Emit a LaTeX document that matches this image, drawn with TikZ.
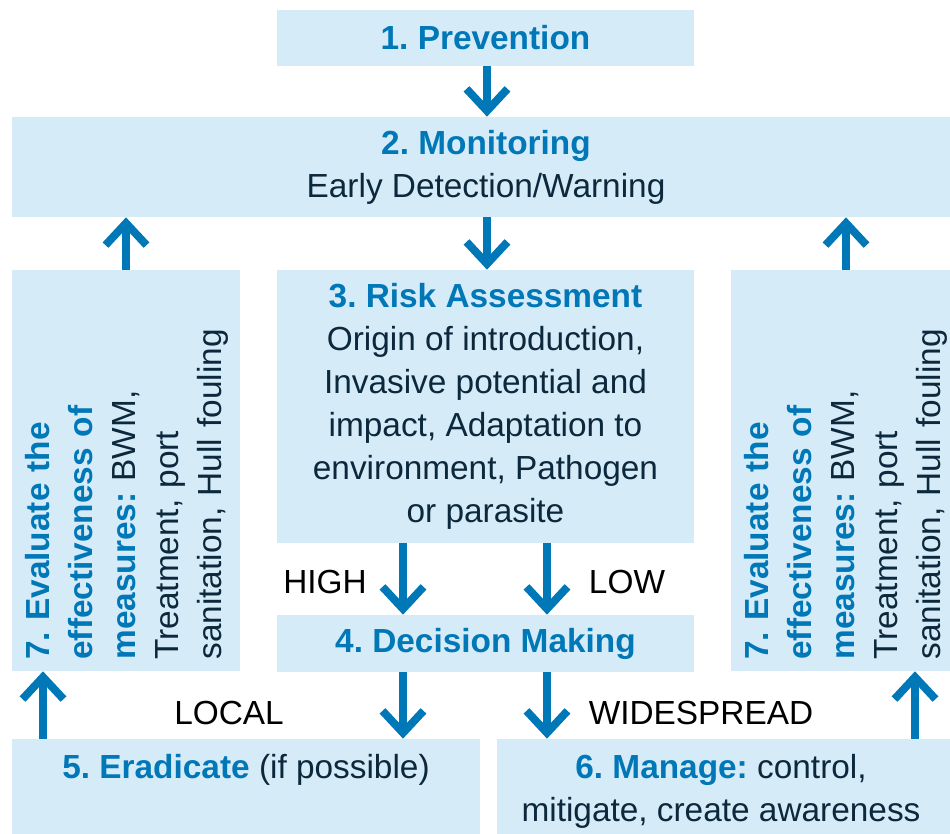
\documentclass[tikz,border=0pt]{standalone}
\usepackage{fontspec}
\setmainfont{Liberation Sans}
\usetikzlibrary{arrows.meta}
\definecolor{boxfill}{RGB}{214,235,248}
\definecolor{stepblue}{RGB}{0,119,182}
\definecolor{bodytext}{RGB}{12,40,60}
\newcommand{\ttl}[1]{\textcolor{stepblue}{\bfseries #1}}
\frenchspacing

\begin{document}
\begin{tikzpicture}[x=0.02cm,y=-0.02cm,
  main box/.style={rectangle,fill=boxfill,inner sep=0pt,text=bodytext,align=center,font=\fontsize{19}{24.4}\selectfont},
  txt/.style={inner sep=0pt,text=bodytext,font=\fontsize{19}{24.4}\selectfont},
  tag/.style={inner sep=0pt,text=black,font=\fontsize{19}{24}\selectfont},
  flow/.style={-{Straight Barb[length=0.44cm,width=0.82cm]},line width=4.5pt,draw=stepblue}]
\useasboundingbox (0,0) rectangle (950,834);

  \node[main box,minimum width=8.34cm,minimum height=1.12cm] (prev) at (485.5,38) {\ttl{1. Prevention}};
  \node[main box,minimum width=18.96cm,minimum height=2cm] (mon) at (486,167) {\ttl{2. Monitoring}\\Early Detection/Warning};
  \node[main box,minimum width=4.56cm,minimum height=8.02cm] (evalL) at (126,470.5) {};
  \node[main box,minimum width=8.34cm,minimum height=5.46cm] (risk) at (485.5,406.5)
    {\ttl{3. Risk Assessment}\\Origin of introduction,\\Invasive potential and\\impact, Adaptation to\\environment, Pathogen\\or parasite};
  \node[main box,minimum width=4.58cm,minimum height=8.02cm] (evalR) at (845.5,470.5) {};
  \node[main box,minimum width=8.34cm,minimum height=1.14cm] (dec) at (485.5,643.5) {\ttl{4. Decision Making}};
  \node[main box,minimum width=9.36cm,minimum height=2.12cm] (erad) at (246,792) {};
  \node[main box,minimum width=9.26cm,minimum height=2.12cm] (mng) at (728.5,792) {};

  \node[txt,rotate=90,anchor=west,text width=7.4cm,align=left] (evalLtxt) at (127,660)
    {\ttl{7. Evaluate the}\\\ttl{effectiveness of}\\\ttl{measures:} BWM,\\Treatment, port\\sanitation, Hull fouling};
  \node[txt,rotate=90,anchor=west,text width=7.4cm,align=left] (evalRtxt) at (846,660)
    {\ttl{7. Evaluate the}\\\ttl{effectiveness of}\\\ttl{measures:} BWM,\\Treatment, port\\sanitation, Hull fouling};
  \node[txt] (eradtxt) at (246,770) {\ttl{5. Eradicate} (if possible)};
  \node[txt,align=center] (mngtxt) at (721,791) {\ttl{6. Manage:} control,\\mitigate, create awareness};

  \node[tag] (high) at (325,582) {HIGH};
  \node[tag] (low) at (627,582) {LOW};
  \node[tag] (local) at (229,713) {LOCAL};
  \node[tag] (wide) at (701,713) {WIDESPREAD};

  \coordinate (xa) at (43,0);
  \coordinate (xb) at (126,0);
  \coordinate (xc) at (403,0);
  \coordinate (xd) at (487,0);
  \coordinate (xe) at (547,0);
  \coordinate (xf) at (846,0);
  \coordinate (xg) at (915,0);

  \draw[flow] (prev.south -| xd) -- (mon.north -| xd);
  \draw[flow] (mon.south -| xd) -- (risk.north -| xd);
  \draw[flow] (evalL.north -| xb) -- (mon.south -| xb);
  \draw[flow] (evalR.north -| xf) -- (mon.south -| xf);
  \draw[flow] (risk.south -| xc) -- (dec.north -| xc);
  \draw[flow] (risk.south -| xe) -- (dec.north -| xe);
  \draw[flow] (dec.south -| xc) -- (erad.north -| xc);
  \draw[flow] (dec.south -| xe) -- (mng.north -| xe);
  \draw[flow] (erad.north -| xa) -- (evalL.south -| xa);
  \draw[flow] (mng.north -| xg) -- (evalR.south -| xg);
\end{tikzpicture}
\end{document}
